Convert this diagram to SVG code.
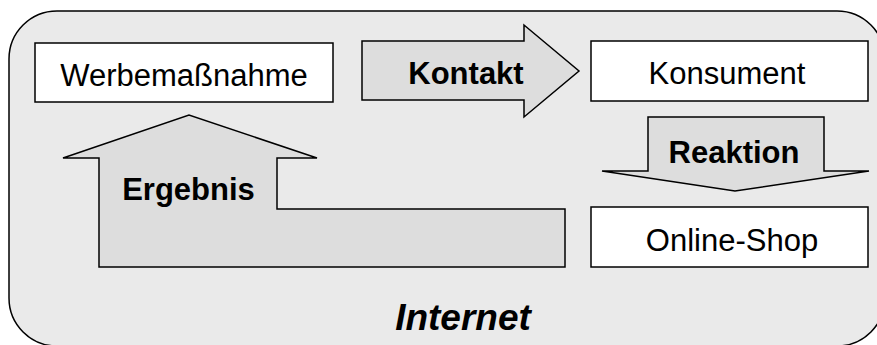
<svg xmlns="http://www.w3.org/2000/svg" width="877" height="345" viewBox="0 0 877 345">
<style>
.box{fill:#ffffff;stroke:#000000;stroke-width:1.5}
.arrow{fill:#dddddd;stroke:#000000;stroke-width:1.5;stroke-linejoin:miter}
.t{font-family:"Liberation Sans",Arial,sans-serif;font-size:31px;fill:#000;text-anchor:middle}
.b{font-weight:bold}
.big{font-size:37px;font-style:italic}
</style>
<rect width="877" height="345" fill="#ffffff"/>
<g id="internet">
<rect x="9" y="11" width="876" height="335" rx="48" ry="48" fill="#eaeaea" stroke="#000" stroke-width="1.5"/>
<text class="t b big" x="463" y="330">Internet</text>
</g>
<g id="connectors">
<g id="kontakt">
<polygon class="arrow" points="362,41 524,41 524,25 579,71 524,117 524,100 362,100"/>
<text class="t b" x="466" y="84">Kontakt</text>
</g>
<g id="reaktion">
<polygon class="arrow" points="648,117 824,117 824,171 869,171 735,191 602,171 648,171"/>
<text class="t b" x="734" y="163">Reaktion</text>
</g>
<g id="ergebnis">
<polygon class="arrow" points="99,267 565,267 565,209 277,209 277,158 317,158 189,115 63,158 99,158"/>
<text class="t b" x="188.5" y="200">Ergebnis</text>
</g>
</g>
<g id="werbemassnahme">
<rect class="box" x="35" y="43" width="298" height="59"/>
<text class="t" x="184" y="86">Werbemaßnahme</text>
</g>
<g id="konsument">
<rect class="box" x="591" y="41" width="277" height="60"/>
<text class="t" x="727" y="84">Konsument</text>
</g>
<g id="onlineshop">
<rect class="box" x="591" y="207" width="277" height="60"/>
<text class="t" x="732" y="251">Online-Shop</text>
</g>
</svg>
